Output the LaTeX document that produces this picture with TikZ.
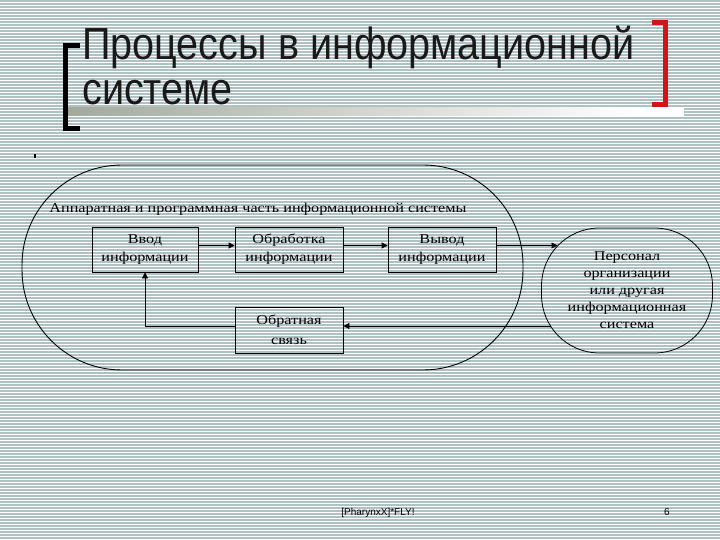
\documentclass[tikz,border=0pt]{standalone}
\usepackage{fontspec}
\setmainfont{Liberation Serif}
\newfontfamily\titlefont[FakeStretch=0.88]{Liberation Sans}
\newfontfamily\dfont[FakeStretch=1.2]{Liberation Serif}
\newfontfamily\ffont{Liberation Sans}
\usetikzlibrary{arrows.meta}
\definecolor{stripe}{HTML}{AFC1C5}
\definecolor{bandgray}{HTML}{A3AA9C}
\definecolor{redbr}{HTML}{D01515}
\begin{document}
\begin{tikzpicture}[x=1pt,y=-1pt,
  box/.style={draw, line width=0.8pt, minimum width=108pt, minimum height=45pt, align=center,
    font=\dfont\fontsize{13.5}{18}\selectfont, inner sep=0pt},
  conn/.style={line width=0.8pt, -{Triangle[length=6pt,width=6pt]}},
  titletext/.style={font=\titlefont\fontsize{45}{45}\selectfont, anchor=base west, inner sep=0pt, text=black!90},
  foottext/.style={font=\ffont\fontsize{10}{12}\selectfont, anchor=base, inner sep=0pt}
]
\useasboundingbox (0,0) rectangle (720,540);
\fill[white] (0,0) rectangle (720,540);
\foreach \i in {0,...,179} \fill[stripe] (0,{\i*3}) rectangle (720,{\i*3+1.8});

% title decorations
\shade[left color=bandgray, right color=white] (68,108) rectangle (640,116);
\fill[white] (640,108) rectangle (684,116);
\draw[line width=5pt, line join=miter] (80,45.5) -- (65,45.5) -- (65,128.5) -- (80,128.5);
\draw[redbr, line width=5pt, line join=miter] (652,22.5) -- (665,22.5) -- (665,104.5) -- (652,104.5);
\node[titletext] (t1) at (82,60) {Процессы в информационной};
\node[titletext] (t2) at (82,105) {системе};
\fill (34,154) rectangle (36,158);

% container
\node[draw, line width=0.9pt, rounded corners=100pt, minimum width=501pt, minimum height=205pt, inner sep=0pt] (sys) at (272.5,267.5) {};
\node[font=\dfont\fontsize{13.5}{15}\selectfont, inner sep=0pt] (lbl) at (258,209) {Аппаратная и программная часть информационной системы};

\node[box, minimum width=106pt] (vvod) at (145,249.5) {Ввод\\информации};
\node[box] (obr) at (289,249.5) {Обработка\\информации};
\node[box] (vyv) at (442,249.5) {Вывод\\информации};
\node[box, minimum height=46pt, font=\dfont\fontsize{13.5}{20}\selectfont] (fb) at (289,330) {Обратная\\связь};
\node[draw, line width=0.8pt, rounded corners=58pt, minimum width=171pt, minimum height=125pt, align=center,
  font=\dfont\fontsize{13.5}{17}\selectfont, inner sep=0pt] (pers) at (627,290.5)
  {Персонал\\организации\\или другая\\информационная\\система};

\coordinate (pin) at (557.5,245.5);
\coordinate (pout) at (551,326);
\draw[conn] ([yshift=4pt]vvod.east) -- ([yshift=4pt]obr.west);
\draw[conn] ([yshift=4pt]obr.east) -- ([yshift=4pt]vyv.west);
\draw[conn] ([yshift=4pt]vyv.east) -- (pin);
\draw[conn] (pout) -- (fb.east |- pout);
\draw[conn] ([yshift=4pt]fb.west) -| (vvod.south);

\node[foottext] (foot) at (378,515) {[PharynxX]*FLY!};
\node[foottext] (page) at (667,515) {6};
\end{tikzpicture}
\end{document}
